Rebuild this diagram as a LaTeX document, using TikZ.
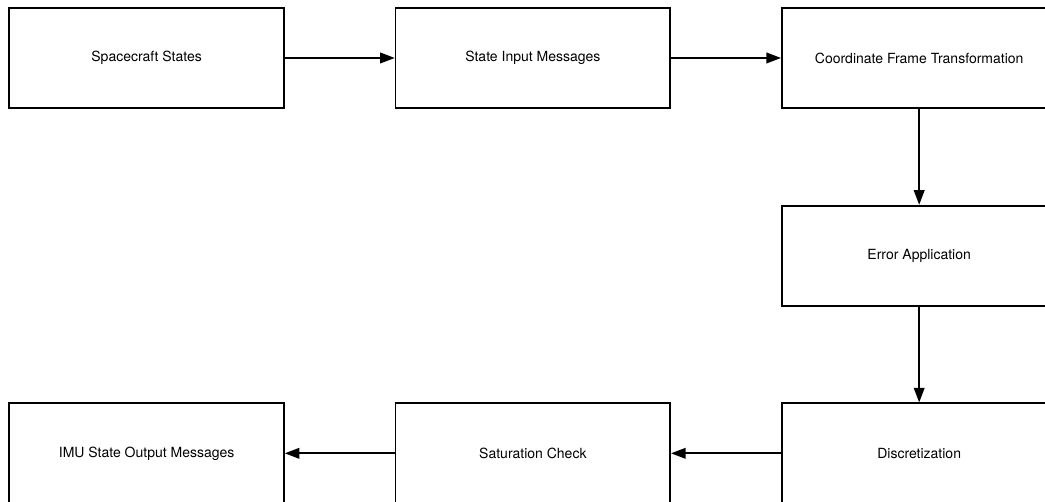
\documentclass[tikz,border=0pt]{standalone}
\usepackage{fontspec}
\setmainfont{TeX Gyre Heros}
\usetikzlibrary{arrows.meta,positioning}

\begin{document}
\begin{tikzpicture}[>={Triangle[length=11pt,width=8pt]},line width=1.3pt,
    block/.style={draw, rectangle, minimum width=206pt, minimum height=75pt,
                  font=\fontsize{10.5}{12}\selectfont},
    node distance=72pt and 82.5pt]
    \clip (-110pt,43.5pt) rectangle (674pt,-333pt);
    \node[block] (ss)                    {Spacecraft States};
    \node[block] (sim)  [right=of ss]    {State Input Messages};
    \node[block] (cft)  [right=of sim]   {Coordinate Frame Transformation};
    \node[block] (ea)   [below=of cft]   {Error Application};
    \node[block] (disc) [below=of ea]    {Discretization};
    \node[block] (sat)  [left=of disc]   {Saturation Check};
    \node[block] (imu)  [left=of sat]    {IMU State Output Messages};

    \path[->]
    (ss)   edge (sim)
    (sim)  edge (cft)
    (cft)  edge (ea)
    (ea)   edge (disc)
    (disc) edge (sat)
    (sat)  edge (imu)
    ;
\end{tikzpicture}
\end{document}
